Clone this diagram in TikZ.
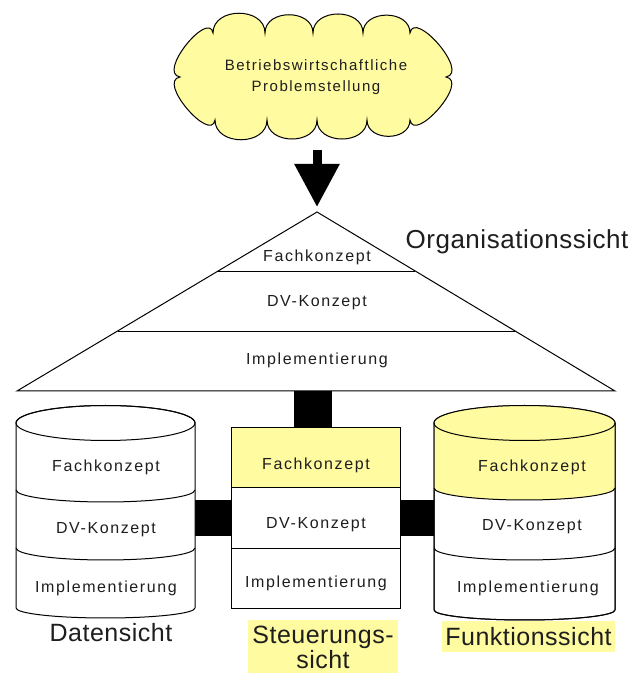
\documentclass[tikz,border=0pt]{standalone}
\usepackage{fontspec}
\setmainfont{Liberation Sans}[LetterSpace=10]
\newfontfamily\bigsans{Liberation Sans}[LetterSpace=2]
\usetikzlibrary{arrows.meta,calc}
\definecolor{paleyellow}{RGB}{255,251,160}
\definecolor{ink}{RGB}{30,30,30}

\tikzset{
  outline/.style={draw=black, line width=1pt},
  small/.style={font=\fontsize{16pt}{19pt}\selectfont, text=ink, inner sep=0pt},
  big/.style={font=\bigsans\fontsize{25pt}{25pt}\selectfont, text=ink, inner sep=0pt},
  bar/.style={draw=black, line cap=butt},
  puffup/.style={out=90, in=90, looseness=1.3},
  puffdown/.style={out=-90, in=-90, looseness=1.3},
}

\begin{document}
\begin{tikzpicture}[x=1pt,y=1pt]
\useasboundingbox (0,0) rectangle (635,673);
\fill[white] (0,0) rectangle (635,673);

% problem cloud, puff by puff
\draw[outline, fill=paleyellow]
  (213,640) to[puffup] (265,640) to[puffup] (313,640) to[puffup] (363,640)
  to[puffup] (410,640)
  to[out=80, in=10, looseness=1.1] (446,596)
  to[out=-10, in=-80, looseness=1.1] (410,553)
  to[puffdown] (367,553) to[puffdown] (317,553) to[puffdown] (267,553)
  to[puffdown] (215,553)
  to[out=-100, in=-170, looseness=1.1] (180,596)
  to[out=170, in=100, looseness=1.1] cycle;
\node[small, font=\fontsize{15pt}{21pt}\selectfont, align=center] (problem)
      at (316,596) {Betriebswirtschaftliche\\Problemstellung};

% pyramid corners
\coordinate (apex) at (317,461);
\coordinate (bl) at (17,282);
\coordinate (br) at (615,282);
\coordinate (arrowstart) at (317,523);

% arrow from the cloud to the pyramid
\draw[line width=9pt, -{Triangle[length=43pt,width=43pt]}] (arrowstart) -- ([yshift=5pt]apex);

% control box (positions for connectors)
\node[minimum width=168pt, minimum height=180pt, inner sep=0pt] (ctrl) at (316,155) {};
\coordinate (tribase) at (313,282);
\coordinate (dataE) at (195,155);
\coordinate (funcW) at (434,155);

% thick connectors
\draw[bar, line width=38pt] (tribase |- ctrl.north) -- (tribase);
\draw[bar, line width=36pt] (dataE) -- (ctrl.west);
\draw[bar, line width=36pt] (ctrl.east) -- (funcW);

% organisation pyramid
\draw[outline, fill=white] (bl) -- (apex) -- (br) -- cycle;
\draw[outline] ($(apex)!0.33!(bl)$) -- ($(apex)!0.33!(br)$);
\draw[outline] ($(apex)!0.665!(bl)$) -- ($(apex)!0.665!(br)$);
\node[small] (ofach) at (317,416) {Fachkonzept};
\node[small] (odv) at (317,370) {DV-Konzept};
\node[small] (oimpl) at (317,313) {Implementierung};
\node[big, font=\bigsans\fontsize{26pt}{26pt}\selectfont] (orglabel) at (517,431) {Organisationssicht};

% control box layers
\fill[paleyellow] (ctrl.north west) rectangle ($(ctrl.north east)+(0,-60)$);
\draw[outline] (ctrl.north west) rectangle (ctrl.south east);
\draw[outline] ($(ctrl.north west)+(0,-60)$) -- ($(ctrl.north east)+(0,-60)$);
\draw[outline] ($(ctrl.north west)+(0,-121)$) -- ($(ctrl.north east)+(0,-121)$);
\node[small] (sfach) at (316,208) {Fachkonzept};
\node[small] (sdv) at (316,148) {DV-Konzept};
\node[small] (simpl) at (316,90) {Implementierung};
\node[big, fill=paleyellow, align=center, minimum width=150pt, minimum height=55pt,
      anchor=south] (steuer) at (323,-2) {Steuerungs-\\sicht};

% data drum
\draw[outline, fill=white] (16,250) -- (16,65)
  arc[start angle=180, end angle=360, x radius=89.5, y radius=10] -- (195,250)
  arc[start angle=0, end angle=180, x radius=89.5, y radius=17.5] -- cycle;
\draw[outline] (105.5,250) ellipse[x radius=89.5, y radius=17.5];
\draw[outline] (16,183) arc[start angle=180, end angle=360, x radius=89.5, y radius=12];
\draw[outline] (16,125) arc[start angle=180, end angle=360, x radius=89.5, y radius=12];
\node[small] (dfach) at (106,206) {Fachkonzept};
\node[small] (ddv) at (106,143) {DV-Konzept};
\node[small] (dimpl) at (106,85) {Implementierung};
\node[big] (datlabel) at (111,40) {Datensicht};

% function drum
\draw[outline, fill=white] (434,250) -- (434,63)
  arc[start angle=180, end angle=360, x radius=90.5, y radius=10] -- (615,250)
  arc[start angle=0, end angle=180, x radius=90.5, y radius=17.5] -- cycle;
\fill[paleyellow] (434,250) -- (434,185)
  arc[start angle=180, end angle=360, x radius=90.5, y radius=12] -- (615,250)
  arc[start angle=0, end angle=180, x radius=90.5, y radius=17.5] -- cycle;
\draw[outline] (434,250) -- (434,63)
  arc[start angle=180, end angle=360, x radius=90.5, y radius=10] -- (615,250);
\draw[outline] (524.5,250) ellipse[x radius=90.5, y radius=17.5];
\draw[outline] (434,185) arc[start angle=180, end angle=360, x radius=90.5, y radius=12];
\draw[outline] (434,125) arc[start angle=180, end angle=360, x radius=90.5, y radius=12];
\node[small] (ffach) at (532,206) {Fachkonzept};
\node[small] (fdv) at (532,146) {DV-Konzept};
\node[small] (fimpl) at (528,85) {Implementierung};
\node[big, fill=paleyellow, minimum width=173pt, minimum height=31pt] (funclabel)
      at (528.5,36.5) {Funktionssicht};
\end{tikzpicture}
\end{document}
